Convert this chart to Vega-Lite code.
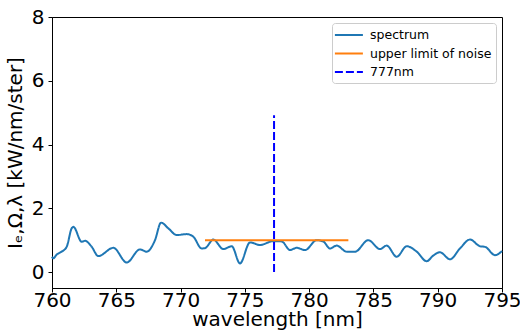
{
  "$schema": "https://vega.github.io/schema/vega-lite/v6.json",
  "width": 450,
  "height": 271,
  "autosize": {"type": "none"},
  "padding": {"left": 52, "top": 17, "right": 18, "bottom": 43},
  "background": "white",
  "config": {
    "font": "DejaVu Sans",
    "view": {"stroke": "black", "strokeWidth": 1},
    "axis": {
      "grid": false,
      "domainColor": "black",
      "tickColor": "black",
      "tickSize": 4,
      "labelFontSize": 20,
      "titleFontSize": 20,
      "labelColor": "black",
      "titleColor": "black",
      "titleFontWeight": "normal",
      "labelFlush": false,
      "labelOverlap": false
    },
    "legend": {
      "title": null,
      "orient": "top-right",
      "offset": 6,
      "symbolType": "M-1.3,0H2.7",
      "symbolSize": 196,
      "symbolStrokeWidth": 2,
      "labelFontSize": 12.5,
      "labelColor": "black",
      "strokeColor": "#cccccc",
      "fillColor": "white",
      "cornerRadius": 3,
      "padding": 4,
      "rowPadding": 3.5,
      "labelOffset": 18
    }
  },
  "datasets": {
    "spectrum": [
      {"wl": 760.0, "v": 0.48},
      {"wl": 760.1, "v": 0.43},
      {"wl": 760.37, "v": 0.55},
      {"wl": 760.75, "v": 0.64},
      {"wl": 761.14, "v": 0.79},
      {"wl": 761.53, "v": 1.37},
      {"wl": 761.66, "v": 1.42},
      {"wl": 762.31, "v": 0.95},
      {"wl": 762.57, "v": 0.98},
      {"wl": 763.09, "v": 0.79},
      {"wl": 763.6, "v": 0.5},
      {"wl": 764.77, "v": 0.76},
      {"wl": 765.81, "v": 0.3},
      {"wl": 766.84, "v": 0.71},
      {"wl": 767.37, "v": 0.64},
      {"wl": 768.01, "v": 1.0},
      {"wl": 768.48, "v": 1.55},
      {"wl": 769.05, "v": 1.37},
      {"wl": 769.7, "v": 1.16},
      {"wl": 770.48, "v": 1.19},
      {"wl": 770.99, "v": 1.11},
      {"wl": 771.64, "v": 0.74},
      {"wl": 771.9, "v": 0.75},
      {"wl": 772.55, "v": 1.02},
      {"wl": 773.32, "v": 0.72},
      {"wl": 773.98, "v": 0.81},
      {"wl": 774.62, "v": 0.27},
      {"wl": 775.4, "v": 0.93},
      {"wl": 776.18, "v": 0.85},
      {"wl": 777.21, "v": 0.97},
      {"wl": 777.87, "v": 0.96},
      {"wl": 778.51, "v": 0.69},
      {"wl": 779.03, "v": 0.76},
      {"wl": 779.68, "v": 0.69},
      {"wl": 780.59, "v": 1.0},
      {"wl": 781.1, "v": 0.96},
      {"wl": 781.62, "v": 0.74},
      {"wl": 782.14, "v": 0.83},
      {"wl": 782.92, "v": 0.64},
      {"wl": 783.57, "v": 0.64},
      {"wl": 784.6, "v": 1.0},
      {"wl": 785.51, "v": 0.72},
      {"wl": 786.03, "v": 0.83},
      {"wl": 786.81, "v": 0.48},
      {"wl": 787.59, "v": 0.81},
      {"wl": 788.37, "v": 0.64},
      {"wl": 789.14, "v": 0.34},
      {"wl": 789.66, "v": 0.52},
      {"wl": 790.18, "v": 0.62},
      {"wl": 790.96, "v": 0.4},
      {"wl": 791.73, "v": 0.74},
      {"wl": 792.51, "v": 1.02},
      {"wl": 793.29, "v": 0.81},
      {"wl": 793.68, "v": 0.79},
      {"wl": 794.46, "v": 0.53},
      {"wl": 795.0, "v": 0.66}
    ],
    "noise": [
      {"wl": 771.9, "v": 1.0},
      {"wl": 783.05, "v": 1.0}
    ],
    "marker": [
      {"wl": 777.27, "v": 0},
      {"wl": 777.27, "v": 4.92}
    ]
  },
  "encoding": {
    "x": {
      "field": "wl",
      "type": "quantitative",
      "scale": {"domain": [760, 795], "nice": false, "zero": false},
      "axis": {"values": [760, 765, 770, 775, 780, 785, 790, 795], "title": "wavelength [nm]", "titlePadding": -1, "labelPadding": -2}
    },
    "y": {
      "field": "v",
      "type": "quantitative",
      "scale": {"domain": [-0.5, 8], "nice": false, "zero": false},
      "axis": {"values": [0, 2, 4, 6, 8], "title": "Iₑ,Ω,λ [kW/nm/ster]", "titlePadding": 6, "labelPadding": 4}
    }
  },
  "layer": [
    {
      "data": {"name": "spectrum"},
      "transform": [{"calculate": "'spectrum'", "as": "series"}],
      "mark": {"type": "line", "interpolate": "monotone", "strokeWidth": 2},
      "encoding": {
        "color": {"field": "series", "type": "nominal"},
        "strokeDash": {"field": "series", "type": "nominal"}
      }
    },
    {
      "data": {"name": "noise"},
      "transform": [{"calculate": "'upper limit of noise'", "as": "series"}],
      "mark": {"type": "line", "strokeWidth": 2},
      "encoding": {
        "color": {"field": "series", "type": "nominal"},
        "strokeDash": {"field": "series", "type": "nominal"}
      }
    },
    {
      "data": {"name": "marker"},
      "transform": [{"calculate": "'777nm'", "as": "series"}],
      "mark": {"type": "line", "strokeWidth": 2},
      "encoding": {
        "color": {
          "field": "series",
          "type": "nominal",
          "scale": {"domain": ["spectrum", "upper limit of noise", "777nm"], "range": ["#1f77b4", "#ff7f0e", "#0000ff"]},
          "legend": {"title": null}
        },
        "strokeDash": {
          "field": "series",
          "type": "nominal",
          "scale": {"domain": ["spectrum", "upper limit of noise", "777nm"], "range": [[1, 0], [1, 0], [8, 3]]},
          "legend": {"title": null}
        }
      }
    }
  ]
}
